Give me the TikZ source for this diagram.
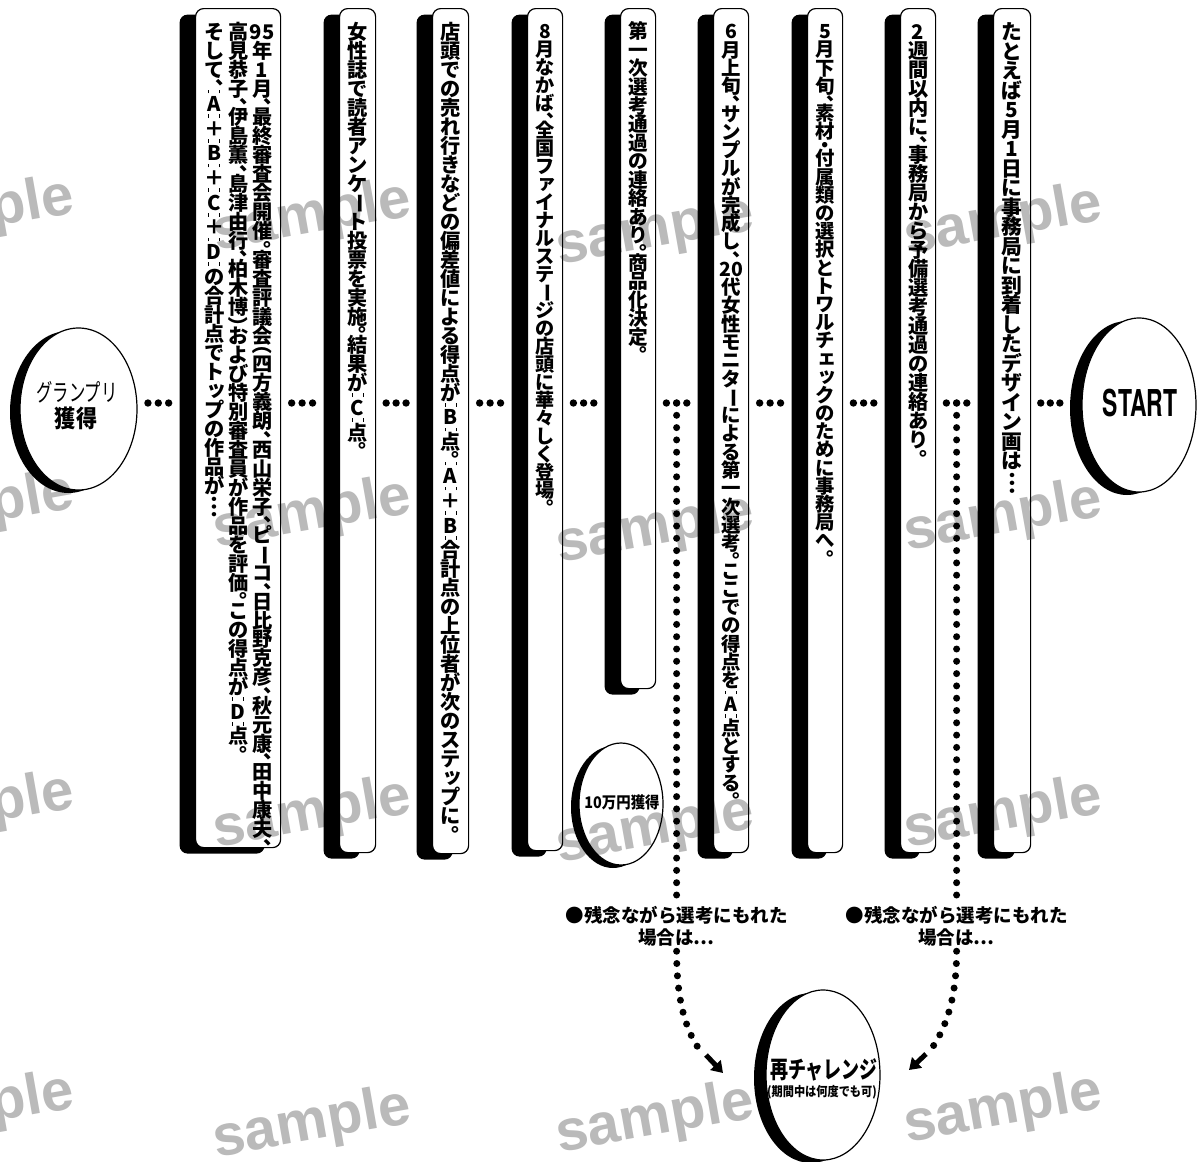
\documentclass[tikz,border=0pt]{standalone}
\usepackage{fontspec}
\usepackage{graphicx}
\usetikzlibrary{shapes.geometric,shadows,decorations.markings,arrows.meta,calc}
\newfontfamily\jpf{Noto Sans CJK JP}
\newfontfamily\hvf{TeX Gyre Heros}
\newfontfamily\wmf{Liberation Sans}
% ---- lines set top to bottom: one cell per character ----
\newcommand\qtick{}% marks around a letter
\makeatletter
\newskip\vc@h
\def\vc@comma{、}\def\vc@stop{。}\def\vc@bar{ー}\def\vc@ell{…}
\def\vc@lp{（}\def\vc@rp{）}\def\vc@dot{・}\def\vc@qref{\qtick}
\def\vc@ssm{ッ}\def\vc@sma{ァ}\def\vc@sme{ェ}
\def\vc@strut{\vrule height.88em depth.12em width0pt}
\def\vc@plain{\vbox to\vc@h{\vss\hbox to1em{\vc@strut\hss\vc@c\hss}\vss}}
\def\vc@punct{\vbox to.5\vc@h{\kern-.6em\hbox to1em{\vc@strut\kern.55em\vc@c\hss}\vss}}
\def\vc@turn{\vbox to\vc@h{\vss\hbox to1em{\vc@strut\hss\rotatebox[origin=c]{-90}{\vc@c}\hss}\vss}}
\def\vc@open{\vbox to.5\vc@h{\kern-.5em\hbox to1em{\vc@strut\hss\rotatebox[origin=c]{-90}{\vc@c}\hss}\vss}}
\def\vc@close{\vbox to.5\vc@h{\hbox to1em{\vc@strut\hss\rotatebox[origin=c]{-90}{\vc@c}\hss}\vss}}
\def\vc@half{\vbox to.5\vc@h{\vss\hbox to1em{\vc@strut\hss\vc@c\hss}\vss}}
\def\vc@ticks{\vbox to.3\vc@h{\vss\hbox to1em{\kern.2em\vrule width.04em height.18em\hss
  \vrule width.04em height.18em\kern.2em}\vss}}
\def\vc@small{\vbox to\vc@h{\vss\hbox to1em{\vc@strut\hss\kern.2em\raisebox{.1em}{\vc@c}\hss}\vss}}
\def\vc@cell{%
  \ifx\vc@c\vc@comma \vc@punct \else
  \ifx\vc@c\vc@stop \vc@punct \else
  \ifx\vc@c\vc@bar \vc@turn \else
  \ifx\vc@c\vc@ell \vc@turn \else
  \ifx\vc@c\vc@lp \vc@open \else
  \ifx\vc@c\vc@rp \vc@close \else
  \ifx\vc@c\vc@dot \vc@half \else
  \ifx\vc@c\vc@qref \vc@ticks \else
  \ifx\vc@c\vc@ssm \vc@small \else
  \ifx\vc@c\vc@sma \vc@small \else
  \ifx\vc@c\vc@sme \vc@small \else
  \vc@plain
  \fi\fi\fi\fi\fi\fi\fi\fi\fi\fi\fi}
\newcommand\vcol[2]{\vtop{\fontsize{#1}{#1}\selectfont\offinterlineskip\vc@h=.94em
  \@tfor\vc@c:=#2\do{\vc@cell}}}
\makeatother
\tikzset{
  panel/.style={draw, line width=1.2pt, fill=white, rounded corners=8pt,
    anchor=north west, minimum width=35pt, inner sep=0pt,
    general shadow={fill=black, shadow xshift=-16pt, shadow yshift=-6pt}},
  oval/.style={ellipse, draw, line width=1.2pt, fill=white, inner sep=0pt,
    general shadow={fill=black, shadow xshift=-#1, shadow yshift=-3pt}},
  vcolumn/.style={anchor=north, inner sep=0pt, font=\jpf\bfseries},
  threedots/.style={decoration={markings,
      mark=at position 0.25 with {\fill (0,0) circle (3.7pt);},
      mark=at position 0.5 with {\fill (0,0) circle (3.7pt);},
      mark=at position 0.75 with {\fill (0,0) circle (3.7pt);}}, decorate},
  dotchain/.style={line width=7pt, line cap=round, dash pattern=on 0pt off 12.3pt},
  fatarrow/.style={line width=5pt, -{Triangle[length=11pt,width=14pt]}},
  note/.style={align=center, inner sep=0pt, font=\jpf\bfseries\fontsize{18.5pt}{22pt}\selectfont},
  wmark/.style={rotate=10, text=black!27, inner sep=0pt,
    font=\wmf\bfseries\fontsize{58pt}{58pt}\selectfont}
}
\begin{document}
\begin{tikzpicture}[x=1pt, y=-1pt]
\useasboundingbox[fill=white] (0,0) rectangle (1197,1162);
\coordinate (row) at (0,403);

% step panels, from the final stage (left) to the first one (right)
\node[panel, minimum width=85pt, minimum height=839pt] (c1) at (195,8) {};
\node[panel, minimum width=36pt, minimum height=844pt] (c2) at (339,8) {};
\node[panel, minimum width=36pt, minimum height=845pt] (c3) at (432,8) {};
\node[panel, minimum height=842pt] (c4) at (527,8) {};
\node[panel, minimum height=680pt] (c5) at (620,8) {};
\node[panel, minimum height=844pt] (c6) at (713,8) {};
\node[panel, minimum height=844pt] (c7) at (807,8) {};
\node[panel, minimum height=844pt] (c8) at (900,8) {};
\node[panel, minimum width=37pt, minimum height=844pt] (c9) at (993,8) {};

% texts of the panels
\node[vcolumn] (t1) at ($(c1.north)+(0,14)$) {\hbox{%
  \vcol{20.2pt}{そして、\qtick A\qtick ＋\qtick B\qtick ＋\qtick C\qtick ＋\qtick D\qtick の合計点でトップの作品が…}\kern3.8pt
  \vcol{20.2pt}{高見恭子、伊島薫、島津由行、柏木博）および特別審査員が作品を評価。この得点が\qtick D\qtick 点。}\kern3.8pt
  \vcol{20.2pt}{{95}年1月、最終審査会開催。審査評議会（四方義朗、西山栄子、ピーコ、日比野克彦、秋元康、田中康夫、}}};
\node[vcolumn] (t2) at ($(c2.north)+(0,14)$) {\vcol{20.2pt}{女性誌で読者アンケート投票を実施。結果が\qtick C\qtick 点。}};
\node[vcolumn] (t3) at ($(c3.north)+(0,14)$) {\vcol{20.2pt}{店頭での売れ行きなどの偏差値による得点が\qtick B\qtick 点。\qtick A\qtick ＋\qtick B\qtick 合計点の上位者が次のステップに。}};
\node[vcolumn] (t4) at ($(c4.north)+(0,14)$) {\vcol{19.15pt}{8月なかば、全国ファイナルステージの店頭に華々しく登場。}};
\node[vcolumn] (t5) at ($(c5.north)+(0,14)$) {\vcol{19.7pt}{第一次選考通過の連絡あり。商品化決定。}};
\node[vcolumn] (t6) at ($(c6.north)+(0,14)$) {\vcol{19.45pt}{6月上旬、サンプルが完成し、{20}代女性モニターによる第一次選考。ここでの得点を\qtick A\qtick 点とする。}};
\node[vcolumn] (t7) at ($(c7.north)+(0,14)$) {\vcol{19.35pt}{5月下旬、素材・付属類の選択とトワルチェックのために事務局へ。}};
\node[vcolumn] (t8) at ($(c8.north)+(0,14)$) {\vcol{20.2pt}{2週間以内に、事務局から予備選考通過の連絡あり。}};
\node[vcolumn] (t9) at ($(c9.north)+(0,14)$) {\vcol{20.75pt}{たとえば5月1日に事務局に到着したデザイン画は…}};

% ovals
\node[oval=10pt, minimum width=117pt, minimum height=162pt] (gp) at (78.5,409) {};
\node[inner sep=0pt, font=\jpf\fontsize{24pt}{24pt}\selectfont] (gpA) at (77,392) {\scalebox{0.68}[1]{グランプリ}};
\node[inner sep=0pt, font=\jpf\bfseries\fontsize{24pt}{24pt}\selectfont] (gpB) at (76,418) {\scalebox{0.88}[1]{獲得}};

\node[oval=12pt, minimum width=114pt, minimum height=174pt] (st) at (1139,405) {};
\node[inner sep=0pt, font=\hvf\bfseries\fontsize{37pt}{37pt}\selectfont] (stT) at (1140,403) {\scalebox{0.62}[1]{START}};

\node[oval=8pt, minimum width=84pt, minimum height=122pt] (tm) at (621,804) {};
\node[inner sep=0pt, font=\jpf\bfseries\fontsize{16pt}{16pt}\selectfont] (tmT) at (622,802) {\scalebox{0.9}[1]{10万円獲得}};

\node[oval=12pt, minimum width=114pt, minimum height=170pt] (rc) at (823,1075) {};
\node[inner sep=0pt, font=\jpf\bfseries\fontsize{24pt}{24pt}\selectfont] (rcA) at (824,1070) {\scalebox{0.75}[1]{再チャレンジ}};
\node[inner sep=0pt, font=\jpf\bfseries\fontsize{13pt}{13pt}\selectfont] (rcB) at (822,1092) {\scalebox{0.86}[1]{(期間中は何度でも可)}};

% left edges of the black sides, on the row of dots
\foreach \n in {c1,c2,c3,c4,c5,c6,c7,c8,c9}
  \coordinate (\n L) at ($(\n.west|-row)+(-16,0)$);
\coordinate (stL) at ($(st.west|-row)+(-12,0)$);

% dotted links between the steps
\path[threedots] (gp.east|-row) -- (c1L);
\foreach \a/\b in {c1/c2,c2/c3,c3/c4,c4/c5,c5/c6,c6/c7,c7/c8,c8/c9}
  \path[threedots] (\a.east|-row) -- (\b L);
\path[threedots] (c9.east|-row) -- (stL);

\coordinate (m56) at ($(c5.east|-row)!0.5!(c6L)$);
\coordinate (m89) at ($(c8.east|-row)!0.5!(c9L)$);

% notes for the unsuccessful case
\node[note] (lab1) at (m56|-{(0,926)}) {●残念ながら選考にもれた\\場合は…};
\node[note] (lab2) at (m89|-{(0,926)}) {●残念ながら選考にもれた\\場合は…};

\coordinate (dL) at (699,1049);
\coordinate (aL) at (706,1055);
\coordinate (tipL) at (723,1073);
\coordinate (dR) at (932,1048);
\coordinate (aR) at (926,1054);
\coordinate (tipR) at (909,1070);

\draw[dotchain] (m56) -- (m56|-lab1.north);
\draw[dotchain, shorten <=5pt] (m56|-lab1.south) .. controls +(0,50) and +(-15,-22) .. (dL);
\draw[fatarrow] (aL) -- (tipL);
\draw[dotchain] (m89) -- (m89|-lab2.north);
\draw[dotchain, shorten <=5pt] (m89|-lab2.south) .. controls +(0,50) and +(15,-22) .. (dR);
\draw[fatarrow] (aR) -- (tipR);

% watermark
\begin{scope}[blend mode=multiply]
\foreach \i/\x/\y in {1/-25/215, 2/312/218, 3/655/232, 4/1003/222,
                      5/-25/510, 6/312/515, 7/655/530, 8/1003/518,
                      9/-25/810, 10/312/815, 11/655/830, 12/1003/815,
                      13/-25/1110, 14/312/1125, 15/655/1120, 16/1003/1110}
  \node[wmark] (wm\i) at (\x,\y) {sample};
\end{scope}
\end{tikzpicture}
\end{document}
